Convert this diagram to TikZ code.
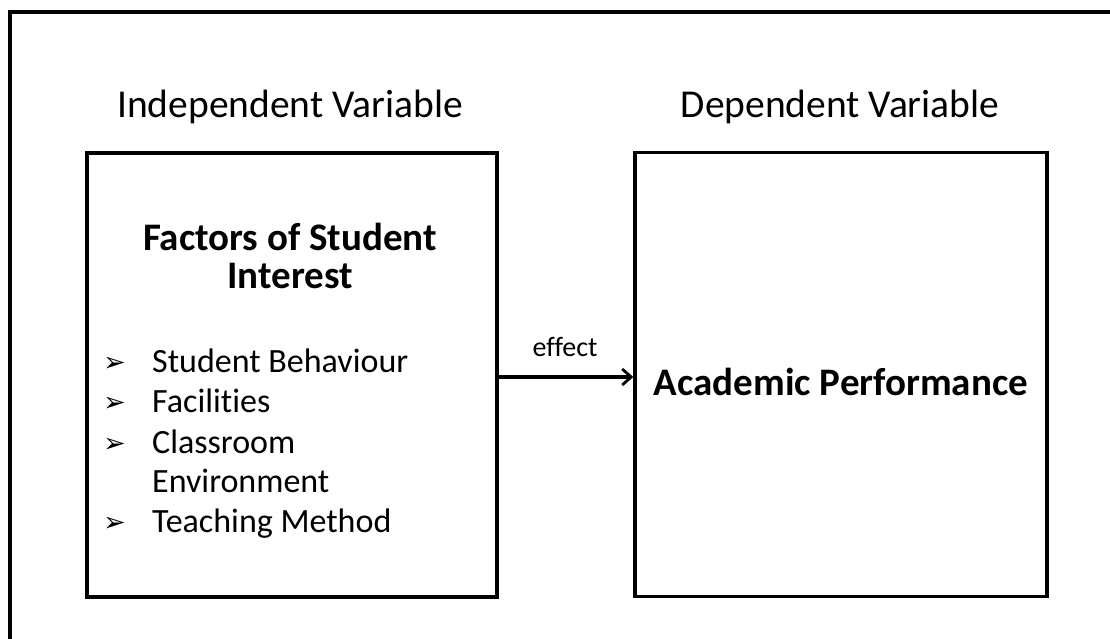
\documentclass[tikz,border=0pt]{standalone}
\usepackage{fontspec}
\setmainfont{Carlito}[Ligatures=NoCommon]
\newfontfamily\dingfont{DejaVu Sans}
\usetikzlibrary{arrows.meta}

\tikzset{
  frame/.style={line width=3.6pt},
  varbox/.style={draw, line width=3.4pt, minimum width=410pt, minimum height=444pt, inner sep=0pt},
  heading/.style={anchor=base, inner sep=0pt, font=\fontsize{39.5}{44}\selectfont},
  boldtitle/.style={anchor=base, inner sep=0pt, font=\fontsize{39}{44}\selectfont\bfseries},
  item/.style={anchor=base west, inner sep=0pt, font=\fontsize{34}{38}\selectfont},
  bullet/.style={anchor=base west, inner sep=0pt, font=\fontsize{27}{30}\selectfont\dingfont},
  link/.style={line width=3.2pt, -{Straight Barb[length=9pt, width=16pt, line width=2.8pt]}},
  linklabel/.style={anchor=base, inner sep=0pt, font=\fontsize{28}{32}\selectfont}
}

\begin{document}
\begin{tikzpicture}[x=1pt, y=-1pt]
  \useasboundingbox (0,0) rectangle (1110,639);

  % outer frame (top and left edges)
  \draw[frame] (10,660) -- (10,12) -- (1110,12);

  % column headings
  \node[heading] (ivhead) at (290,118) {Independent Variable};
  \node[heading] (dvhead) at (840,118) {Dependent Variable};

  % variable boxes
  \node[varbox] (iv) at (292,375) {};
  \node[varbox, minimum width=412pt] (dv) at (841,374.5) {};

  % independent variable contents
  \node[boldtitle] (ivt1) at (290,250) {Factors of Student};
  \node[boldtitle] (ivt2) at (290,288) {Interest};

  \node[bullet] (b1) at (103,371) {➢};
  \node[item]   (i1) at (152,372) {Student Behaviour};
  \node[bullet] (b2) at (103,411) {➢};
  \node[item]   (i2) at (152,412) {Facilities};
  \node[bullet] (b3) at (103,452) {➢};
  \node[item]   (i3) at (152,453) {Classroom};
  \node[item]   (i4) at (152,492) {Environment};
  \node[bullet] (b4) at (103,531) {➢};
  \node[item]   (i5) at (152,532) {Teaching Method};

  % dependent variable contents
  \node[boldtitle] (dvt) at (841,395) {Academic Performance};

  % effect arrow and its label
  \coordinate (armid) at (565,356);
  \draw[link] (iv.east |- 0,377) -- (dv.west |- 0,377);
  \node[linklabel] (eff) at (armid) {effect};
\end{tikzpicture}
\end{document}
